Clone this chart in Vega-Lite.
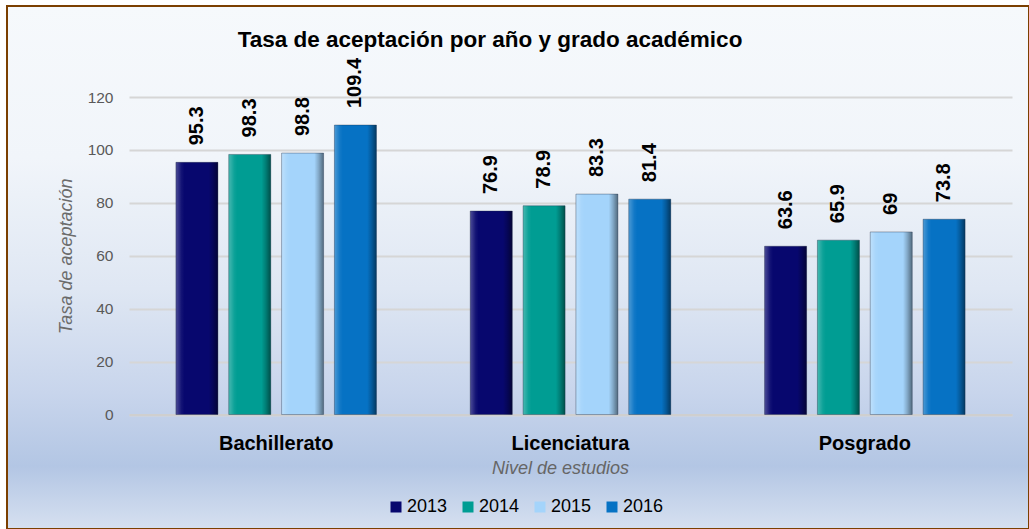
{
  "$schema": "https://vega.github.io/schema/vega-lite/v6.json",
  "width": 1022,
  "height": 523,
  "autosize": {"type": "none"},
  "padding": {"left": 7, "top": 6, "right": 0, "bottom": 0},
  "background": "#ffffff",
  "title": {
    "text": "Tasa de aceptación por año y grado académico",
    "anchor": "middle",
    "offset": -63,
    "baseline": "alphabetic",
    "dx": -28,
    "font": "Liberation Sans, Arial, sans-serif",
    "fontSize": 22.5,
    "fontWeight": "bold",
    "color": "#000000"
  },
  "config": {
    "view": {
      "fill": {
        "gradient": "linear", "x1": 0, "y1": 0, "x2": 0, "y2": 1,
        "stops": [
          {"offset": 0, "color": "#f6f9fc"},
          {"offset": 0.29, "color": "#f1f5fa"},
          {"offset": 0.54, "color": "#dfe7f3"},
          {"offset": 0.74, "color": "#c8d5ec"},
          {"offset": 0.88, "color": "#b3c6e4"},
          {"offset": 1, "color": "#d6e0f0"}
        ]
      },
      "stroke": "#7b3f00",
      "strokeWidth": 2
    },
    "font": "Liberation Sans, Arial, sans-serif"
  },
  "data": {
    "values": [
      {"nivel": "Bachillerato", "anio": "2013", "tasa": 95.3},
      {"nivel": "Bachillerato", "anio": "2014", "tasa": 98.3},
      {"nivel": "Bachillerato", "anio": "2015", "tasa": 98.8},
      {"nivel": "Bachillerato", "anio": "2016", "tasa": 109.4},
      {"nivel": "Licenciatura", "anio": "2013", "tasa": 76.9},
      {"nivel": "Licenciatura", "anio": "2014", "tasa": 78.9},
      {"nivel": "Licenciatura", "anio": "2015", "tasa": 83.3},
      {"nivel": "Licenciatura", "anio": "2016", "tasa": 81.4},
      {"nivel": "Posgrado", "anio": "2013", "tasa": 63.6},
      {"nivel": "Posgrado", "anio": "2014", "tasa": 65.9},
      {"nivel": "Posgrado", "anio": "2015", "tasa": 69},
      {"nivel": "Posgrado", "anio": "2016", "tasa": 73.8}
    ]
  },
  "encoding": {
    "x": {
      "field": "nivel", "type": "nominal", "sort": null,
      "scale": {"range": [122, 1005], "paddingInner": 0.282, "paddingOuter": 0.141},
      "axis": {
        "orient": "bottom",
        "offset": -114.5,
        "title": "Nivel de estudios",
        "titleFontSize": 18,
        "titleFontStyle": "italic",
        "titleFontWeight": "normal",
        "titleColor": "#666666",
        "titlePadding": 6,
        "titleX": 553,
        "labelFontSize": 20,
        "labelFontWeight": "bold",
        "labelColor": "#000000",
        "labelAngle": 0,
        "labelPadding": 19,
        "ticks": false,
        "domain": true,
        "domainColor": "#cfcfcf",
        "domainWidth": 2,
        "grid": false
      }
    },
    "xOffset": {
      "field": "anio", "type": "nominal",
      "scale": {"paddingInner": 0.205, "paddingOuter": 0.1025}
    },
    "y": {
      "field": "tasa", "type": "quantitative",
      "scale": {"domain": [0, 120], "range": [408.5, 91], "nice": false},
      "axis": {
        "orient": "left",
        "offset": -122,
        "values": [0, 20, 40, 60, 80, 100, 120],
        "title": "Tasa de aceptación",
        "titleFontSize": 18,
        "titleFontStyle": "italic",
        "titleFontWeight": "normal",
        "titleColor": "#6b6b6b",
        "titlePadding": 12,
        "labelFontSize": 15.5,
        "labelColor": "#595959",
        "labelPadding": 16,
        "ticks": false,
        "domain": false,
        "grid": true,
        "gridColor": "#d6d6d6",
        "gridWidth": 2
      }
    }
  },
  "layer": [
    {
      "mark": {"type": "bar"},
      "encoding": {
        "color": {
          "field": "anio", "type": "nominal",
          "scale": {
            "domain": ["2013", "2014", "2015", "2016"],
            "range": ["#07076e", "#009d93", "#a4d4fb", "#0672c4"]
          },
          "legend": {
            "orient": "none",
            "legendX": 380,
            "legendY": 492,
            "direction": "horizontal",
            "title": null,
            "symbolType": "square",
            "symbolSize": 121,
            "symbolStrokeWidth": 0,
            "labelFontSize": 18,
            "labelColor": "#000000",
            "labelOffset": 2,
            "columnPadding": 11
          }
        }
      }
    },
    {
      "mark": {
        "type": "bar",
        "stroke": "#1f2a40",
        "strokeWidth": 0.8,
        "strokeOpacity": 0.45,
        "fill": {
          "gradient": "linear", "x1": 0, "y1": 0, "x2": 1, "y2": 0,
          "stops": [
            {"offset": 0, "color": "rgba(255,255,255,0.28)"},
            {"offset": 0.13, "color": "rgba(255,255,255,0.05)"},
            {"offset": 0.2, "color": "rgba(255,255,255,0)"},
            {"offset": 0.78, "color": "rgba(0,0,0,0)"},
            {"offset": 0.88, "color": "rgba(0,0,0,0.2)"},
            {"offset": 1, "color": "rgba(0,0,0,0.5)"}
          ]
        }
      }
    },
    {
      "mark": {
        "type": "text",
        "angle": -90,
        "align": "left",
        "baseline": "middle",
        "dx": 17,
        "fontSize": 20,
        "fontWeight": "bold",
        "color": "#000000"
      },
      "encoding": {
        "text": {"field": "tasa", "type": "quantitative"}
      }
    }
  ]
}
